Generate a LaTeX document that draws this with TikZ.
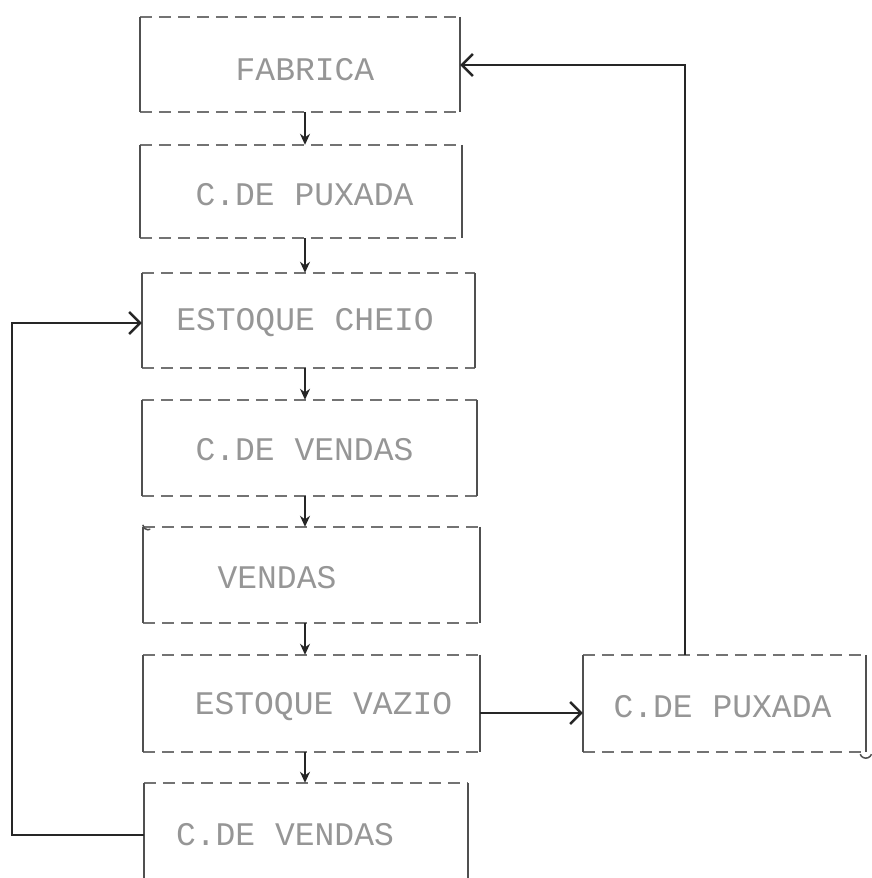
\documentclass[tikz,border=0pt]{standalone}
\usepackage{fontspec}
\setmonofont{Liberation Mono}
\usetikzlibrary{arrows.meta}
\definecolor{txtgray}{HTML}{969696}
\definecolor{dashgray}{HTML}{737373}
\definecolor{sidegray}{HTML}{505050}
\definecolor{inkdark}{HTML}{262626}
\tikzset{
  boxarea/.style={rectangle, draw=none, inner sep=0pt},
  lbl/.style={inner sep=0pt, text=txtgray, font=\ttfamily\fontsize{33}{33}\selectfont},
  dashline/.style={draw=dashgray, line width=2pt, dash pattern=on 12pt off 7pt},
  sideline/.style={draw=sidegray, line width=2.3pt},
  downarrow/.style={draw=inkdark, line width=2pt, -{Stealth[length=11pt,width=10pt]}},
  sidearrow/.style={draw=inkdark, line width=2.2pt, -{Straight Barb[length=11pt,width=22pt,line width=2.4pt]}}
}
\begin{document}
\begin{tikzpicture}[x=1pt,y=-1pt]
\useasboundingbox (0,0) rectangle (872,878);
% box areas
\node[boxarea, minimum width=320pt, minimum height=95pt] (b1) at (300,64.5) {};
\node[boxarea, minimum width=322pt, minimum height=93pt] (b2) at (301,191.5) {};
\node[boxarea, minimum width=333pt, minimum height=95pt] (b3) at (308.5,320.5) {};
\node[boxarea, minimum width=335pt, minimum height=96pt] (b4) at (309.5,448) {};
\node[boxarea, minimum width=337pt, minimum height=96pt] (b5) at (311.5,575) {};
\node[boxarea, minimum width=337pt, minimum height=97pt] (b6) at (311.5,703.5) {};
\node[boxarea, minimum width=324pt, minimum height=95pt] (b7) at (306,830.5) {};
\node[boxarea, minimum width=283pt, minimum height=97pt] (r) at (724.5,703.5) {};
% labels
\node[lbl] (t1) at (305,70) {FABRICA};
\node[lbl] (t2) at (304.5,195) {C.DE PUXADA};
\node[lbl] (t3) at (305,323) {ESTOQUE CHEIO};
\node[lbl] (t4) at (304.5,450) {C.DE VENDAS};
\node[lbl] (t5) at (277,578) {VENDAS};
\node[lbl] (t6) at (323.5,707) {ESTOQUE VAZIO};
\node[lbl] (t7) at (285,835) {C.DE VENDAS};
\node[lbl] (t8) at (722.5,707) {C.DE PUXADA};
% box borders: dashed top/bottom, solid sides
\foreach \b in {b1,b2,b3,b4,b5,b6,r}{
  \draw[dashline] (\b.north west) -- (\b.north east);
  \draw[dashline] (\b.south west) -- (\b.south east);
  \draw[sideline] (\b.north west) -- (\b.south west);
  \draw[sideline] (\b.north east) -- (\b.south east);
}
\draw[dashline] (b7.north west) -- (b7.north east);
\draw[sideline] (b7.north west) -- (b7.south west);
\draw[sideline] (b7.north east) -- (b7.south east);
% vertical flow arrows
\coordinate (ax) at (305,0);
\draw[downarrow] (b1.south -| ax) -- (b2.north -| ax);
\draw[downarrow] (b2.south -| ax) -- (b3.north -| ax);
\draw[downarrow] (b3.south -| ax) -- (b4.north -| ax);
\draw[downarrow] (b4.south -| ax) -- (b5.north -| ax);
\draw[downarrow] (b5.south -| ax) -- (b6.north -| ax);
\draw[downarrow] (b6.south -| ax) -- (b7.north -| ax);
% left feedback loop
\coordinate (lc) at (12,0);
\draw[sidearrow] (t7 -| b7.west) -- (t7 -| lc) |- (t3 -| b3.west);
% estoque vazio -> c.de puxada
\coordinate (hv) at (0,713);
\draw[sidearrow] (b6.east |- hv) -- (r.west |- hv);
% right feedback loop to fabrica
\coordinate (rc) at (685,65);
\draw[sidearrow] (r.north -| rc) -- (rc) -- (rc -| b1.east);
% small marks on the sheet
\draw[draw=sidegray, line width=1.5pt] (b5.north west) ++(0,-2) arc[start angle=180, end angle=300, radius=5pt];
\draw[draw=sidegray, line width=1.5pt] (r.south east) ++(-6,2) arc[start angle=200, end angle=340, radius=6pt];
\end{tikzpicture}
\end{document}
